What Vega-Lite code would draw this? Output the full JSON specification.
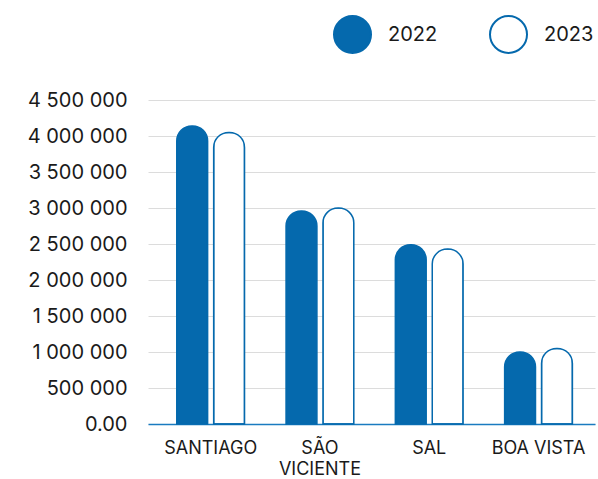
{
  "$schema": "https://vega.github.io/schema/vega-lite/v6.json",
  "autosize": {"type": "none"},
  "padding": {"left": 148, "top": 100, "right": 3, "bottom": 55},
  "width": 447,
  "height": 324,
  "background": "white",
  "config": {
    "view": {"stroke": null},
    "font": "Inter",
    "axis": {"labelFont": "Inter", "labelColor": "#1a1a1a"},
    "legend": {"labelFont": "Inter", "labelColor": "#1a1a1a"}
  },
  "data": {
    "values": [
      {"island": "SANTIAGO", "year": "2022", "value": 4140000},
      {"island": "SANTIAGO", "year": "2023", "value": 4050000},
      {"island": "SÃO VICIENTE", "year": "2022", "value": 2960000},
      {"island": "SÃO VICIENTE", "year": "2023", "value": 3000000},
      {"island": "SAL", "year": "2022", "value": 2490000},
      {"island": "SAL", "year": "2023", "value": 2430000},
      {"island": "BOA VISTA", "year": "2022", "value": 1000000},
      {"island": "BOA VISTA", "year": "2023", "value": 1050000}
    ]
  },
  "mark": {
    "type": "bar",
    "stroke": "#0569AD",
    "strokeWidth": 1.5,
    "cornerRadiusTopLeft": 15,
    "cornerRadiusTopRight": 15
  },
  "encoding": {
    "x": {
      "field": "island",
      "type": "nominal",
      "sort": null,
      "title": null,
      "scale": {"paddingInner": 0.38, "paddingOuter": 0.235, "align": 0.56},
      "axis": {
        "labelAngle": 0,
        "domainColor": "#1a7bc0",
        "domainWidth": 1.5,
        "ticks": false,
        "labelPadding": 15,
        "labelFontSize": 18,
        "labelBaseline": "top",
        "labelLineHeight": 21,
        "labelExpr": "datum.label == 'SÃO VICIENTE' ? ['SÃO', 'VICIENTE'] : datum.label"
      }
    },
    "xOffset": {
      "field": "year",
      "type": "nominal",
      "scale": {"paddingInner": 0.164, "paddingOuter": 0}
    },
    "y": {
      "field": "value",
      "type": "quantitative",
      "title": null,
      "scale": {"domain": [0, 4500000], "nice": false},
      "axis": {
        "values": [0, 500000, 1000000, 1500000, 2000000, 2500000, 3000000, 3500000, 4000000, 4500000],
        "domain": false,
        "ticks": false,
        "labelPadding": 21,
        "labelFontSize": 20,
        "gridColor": "#dcdcdc",
        "gridWidth": 1,
        "labelExpr": "datum.value == 0 ? '0.00' : replace(replace(format(datum.value, ','), ',', ' '), ',', ' ')"
      }
    },
    "fill": {
      "field": "year",
      "type": "nominal",
      "scale": {"domain": ["2022", "2023"], "range": ["#0569AD", "#ffffff"]},
      "legend": {
        "title": null,
        "orient": "none",
        "direction": "horizontal",
        "legendX": 185,
        "legendY": -85,
        "padding": 0,
        "symbolType": "circle",
        "symbolSize": 1369,
        "symbolStrokeColor": "#0569AD",
        "symbolStrokeWidth": 2,
        "labelFontSize": 20,
        "labelOffset": 16,
        "columnPadding": 48
      }
    }
  }
}
